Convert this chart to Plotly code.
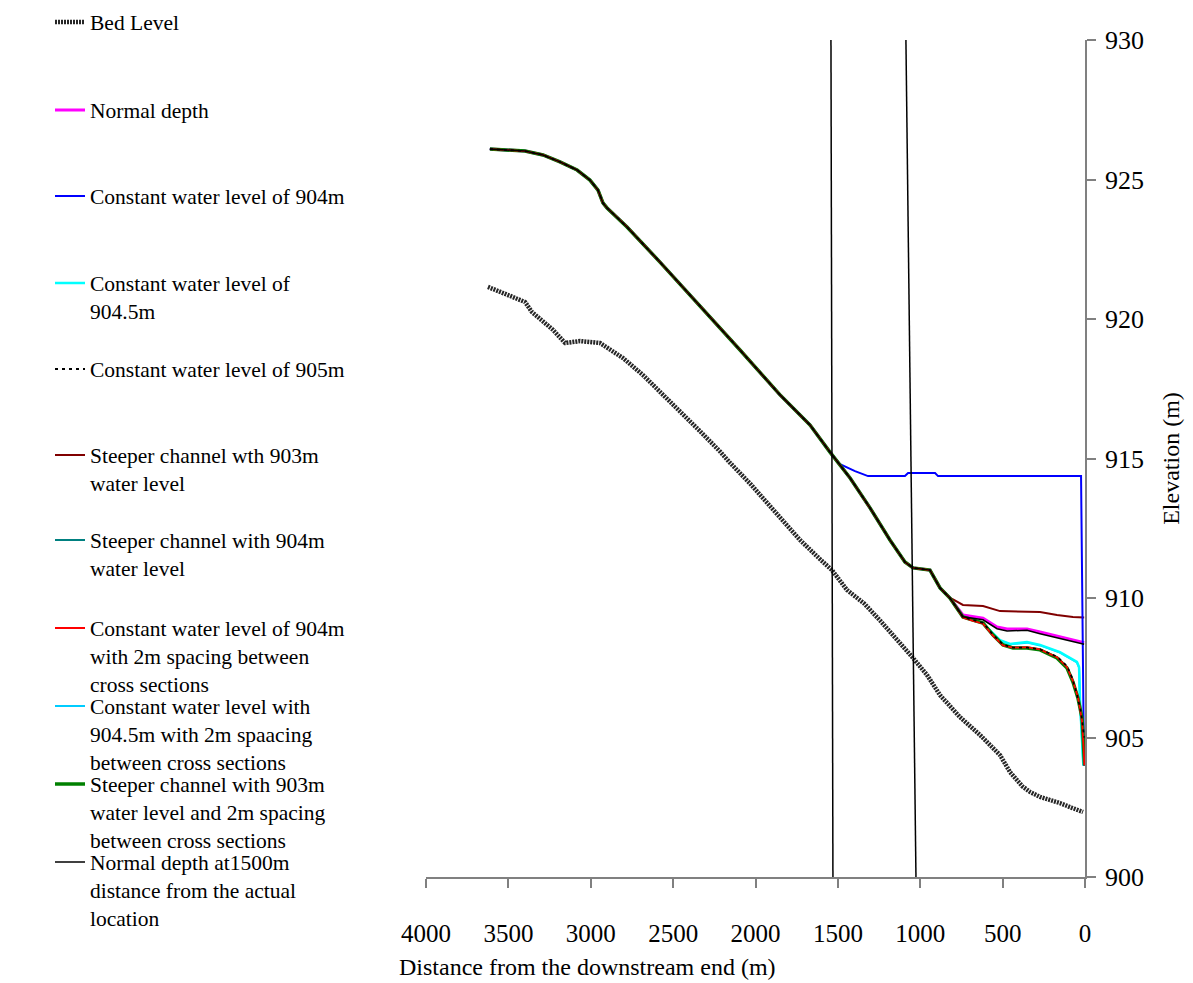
import plotly.graph_objects as go

# ------------------------------------------------------------------ data
# Common upstream water-surface profile (distance from downstream end, m / elevation, m)
up_x = [3612, 3533, 3399, 3290, 3187, 3083, 3005, 2956, 2926, 2901, 2780, 2580,
        2337, 2094, 1851, 1669, 1548]
up_y = [926.09, 926.06, 926.02, 925.88, 925.63, 925.34, 924.98, 924.62, 924.16,
        923.98, 923.30, 922.04, 920.47, 918.89, 917.28, 916.20, 915.23]

mid_x = [1426, 1305, 1184, 1093, 1044, 941, 880, 820]
mid_y = [914.30, 913.23, 912.08, 911.29, 911.08, 911.00, 910.36, 910.00]

bed_x = [3624, 3533, 3472, 3399, 3357, 3290, 3229, 3156, 3065, 2944, 2883, 2804,
         2683, 2580, 2458, 2337, 2215, 2155, 2033, 1912, 1851, 1730, 1610, 1536,
         1445, 1340, 1245, 1160, 1081, 1044, 960, 880, 759, 637, 516, 455, 380,
         334, 273, 200, 152, 80, 12]
bed_y = [921.15, 920.93, 920.79, 920.61, 920.25, 919.89, 919.61, 919.14, 919.21,
         919.14, 918.89, 918.60, 917.99, 917.40, 916.70, 915.98, 915.25, 914.85,
         914.10, 913.30, 912.90, 912.08, 911.40, 911.00, 910.29, 909.80, 909.20,
         908.65, 908.14, 907.85, 907.25, 906.52, 905.73, 905.09, 904.37, 903.76,
         903.25, 903.05, 902.87, 902.75, 902.65, 902.48, 902.33]

normal_tail_x = [741, 619, 534, 473, 352, 273, 152, 30, 5]
normal_tail_y = [909.39, 909.28, 908.96, 908.89, 908.89, 908.78, 908.60, 908.42, 908.40]

blue_tail_x = [1487, 1396, 1317, 1093, 1074, 910, 892, 24, 20, 15, 10, 6]
blue_tail_y = [914.80, 914.55, 914.37, 914.37, 914.48, 914.48, 914.37, 914.37,
               912.50, 910.00, 906.50, 904.00]

cyan_tail_x = [741, 680, 619, 595, 516, 455, 352, 273, 152, 49, 36, 30, 18, 10]
cyan_tail_y = [909.32, 909.21, 909.10, 908.95, 908.49, 908.35, 908.42, 908.32,
               908.06, 907.71, 907.53, 906.27, 905.09, 904.00]

c905_tail_x = [741, 680, 619, 558, 498, 437, 352, 273, 170, 109, 79, 49, 24, 12, 5]
c905_tail_y = [909.32, 909.21, 909.11, 908.68, 908.33, 908.22, 908.22, 908.16,
               907.90, 907.56, 907.15, 906.55, 905.90, 905.35, 905.00]

st903_tail_x = [801, 741, 619, 516, 273, 170, 73, 5]
st903_tail_y = [909.95, 909.75, 909.71, 909.53, 909.50, 909.39, 909.32, 909.30]

st904_tail_x = [741, 680, 619, 558, 498, 437, 352, 273, 170, 109, 73, 43, 18, 8, 4]
st904_tail_y = [909.33, 909.22, 909.11, 908.69, 908.34, 908.23, 908.22, 908.15,
                907.86, 907.50, 907.00, 906.44, 905.68, 904.80, 904.00]

c904s_tail_x = [741, 680, 619, 558, 498, 437, 352, 273, 170, 109, 73, 43, 18, 8, 4]
c904s_tail_y = [909.30, 909.18, 909.08, 908.64, 908.30, 908.22, 908.24, 908.16,
                907.88, 907.52, 907.02, 906.45, 905.60, 904.60, 904.00]

c9045s_tail_x = [741, 680, 619, 595, 516, 455, 352, 273, 152, 49, 36, 30, 18, 10]
c9045s_tail_y = [909.31, 909.20, 909.09, 908.93, 908.47, 908.34, 908.40, 908.30,
                 908.04, 907.69, 907.50, 906.20, 905.00, 904.00]

st903s_tail_x = [741, 680, 619, 558, 498, 437, 352, 273, 170, 109, 73, 43, 18, 12, 6, 3]
st903s_tail_y = [909.32, 909.21, 909.10, 908.67, 908.32, 908.21, 908.21, 908.14,
                 907.85, 907.49, 906.99, 906.42, 905.70, 905.09, 904.27, 904.00]

nd1500_tail_x = [741, 619, 534, 473, 352, 273, 152, 30, 5]
nd1500_tail_y = [909.33, 909.22, 908.90, 908.82, 908.84, 908.72, 908.54, 908.36, 908.34]

# two near-vertical reference lines
vline_x = [1542, 1530, None, 1087, 1026]
vline_y = [930, 900, None, 930, 900]

x_ticks = [4000, 3500, 3000, 2500, 2000, 1500, 1000, 500, 0]
y_ticks = [900, 905, 910, 915, 920, 925, 930]

names = [
    "Bed Level",
    "Normal depth",
    "Constant water level of 904m",
    "Constant water level of<br>904.5m",
    "Constant water level of 905m",
    "Steeper channel wth 903m<br>water level",
    "Steeper channel with 904m<br>water level",
    "Constant water level of 904m<br>with 2m spacing between<br>cross sections",
    "Constant water level with<br>904.5m with 2m spaacing<br>between cross sections",
    "Steeper channel with 903m<br>water level and 2m spacing<br>between cross sections",
    "Normal depth at1500m<br>distance from the actual<br>location",
]

# ------------------------------------------------------------------ figure
FONT = "Liberation Serif, Times New Roman, serif"
fig = go.Figure()

def add(x, y, idx, color, width, dash="solid"):
    fig.add_trace(go.Scatter(
        x=x, y=y, mode="lines", name=names[idx],
        line=dict(color=color, width=width, dash=dash),
        legend="legend" if idx == 0 else f"legend{idx + 1}",
    ))

add(bed_x, bed_y, 0, "#262626", 4.5, "2px,1px")
add(up_x + mid_x + st904_tail_x, up_y + mid_y + st904_tail_y, 6, "#008080", 2)
add(up_x + mid_x + c9045s_tail_x, up_y + mid_y + c9045s_tail_y, 8, "#00CCFF", 2)
add(up_x + mid_x + cyan_tail_x, up_y + mid_y + cyan_tail_y, 3, "#00FFFF", 2.5)
add(up_x + mid_x + normal_tail_x, up_y + mid_y + normal_tail_y, 1, "#FF00FF", 3)
add(up_x + mid_x + st903_tail_x, up_y + mid_y + st903_tail_y, 5, "#800000", 2)
add(up_x + blue_tail_x, up_y + blue_tail_y, 2, "#0000FF", 2)
add(up_x + mid_x + st903s_tail_x, up_y + mid_y + st903s_tail_y, 9, "#008000", 3.5)
add(up_x + mid_x + c904s_tail_x, up_y + mid_y + c904s_tail_y, 7, "#FF0000", 1.8)
add(up_x + mid_x + c905_tail_x, up_y + mid_y + c905_tail_y, 4, "#000000", 1.8, "3px,4px")
add(up_x + mid_x + nd1500_tail_x, up_y + mid_y + nd1500_tail_y, 10, "#000000", 1.5)

fig.add_trace(go.Scatter(x=vline_x, y=vline_y, mode="lines", showlegend=False,
                         line=dict(color="#000000", width=1.5), hoverinfo="skip"))

# plot area geometry (pixels)
W, H = 1193, 983
ML, MR, MT, MB = 426, 108, 40, 106
PH = H - MT - MB
PW = W - ML - MR

legend_rows_px = [22, 110, 196, 283, 369, 455, 540, 628, 706, 784, 862]
LEG_FONT = 21.5
legend_x = (50 - ML) / PW
layout_legends = {}
for i, ypx in enumerate(legend_rows_px):
    top = ypx - (6.5 + LEG_FONT * 1.3 / 2)
    key = "legend" if i == 0 else f"legend{i + 1}"
    layout_legends[key] = dict(
        x=legend_x, xanchor="left", y=(H - MB - top) / PH, yanchor="top",
        font=dict(family=FONT, size=LEG_FONT, color="black"),
        bgcolor="rgba(0,0,0,0)", borderwidth=0, valign="top",
        itemclick=False, itemdoubleclick=False,
    )

fig.update_layout(
    width=W, height=H,
    margin=dict(l=ML, r=MR, t=MT, b=MB, autoexpand=False),
    paper_bgcolor="white", plot_bgcolor="white",
    font=dict(family=FONT, color="black"),
    **layout_legends,
)

fig.update_xaxes(
    range=[4000, 0], tickvals=x_ticks, ticktext=[str(v) for v in x_ticks],
    showline=True, linecolor="#808080", linewidth=1.5,
    ticks="outside", ticklen=9, tickcolor="#808080", tickwidth=1.5,
    tickfont=dict(family=FONT, size=25, color="black"),
    ticklabelstandoff=24,
    showgrid=False, zeroline=False,
)
fig.update_yaxes(
    range=[900, 930], tickvals=y_ticks, side="right",
    showline=True, linecolor="#808080", linewidth=1.5,
    ticks="outside", ticklen=9, tickcolor="#808080", tickwidth=1.5,
    tickfont=dict(family=FONT, size=26, color="black"),
    ticklabelstandoff=4,
    showgrid=False, zeroline=False,
    title=dict(text="Elevation (m)", font=dict(family=FONT, size=24, color="black"),
               standoff=19),
)

fig.add_annotation(
    text="Distance from the downstream end (m)", xref="paper", yref="paper",
    x=(587 - ML) / PW, y=(H - MB - 967) / PH,
    xanchor="center", yanchor="middle", showarrow=False,
    font=dict(family=FONT, size=24, color="black"),
)

fig.write_html("out.html")
